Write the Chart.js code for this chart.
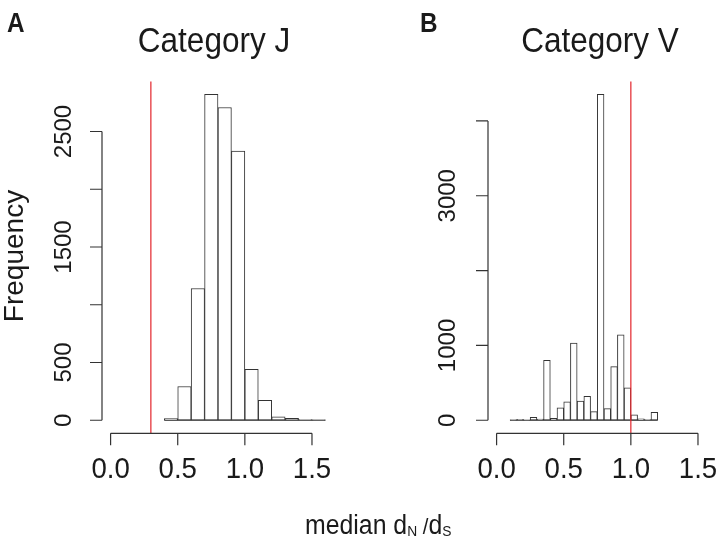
<!DOCTYPE html>
<html><head><meta charset="utf-8">
<script src="https://cdn.jsdelivr.net/npm/chart.js@4"></script>
<style>
html,body{margin:0;padding:0;background:#fff;width:723px;height:540px;overflow:hidden}
canvas{position:absolute;left:0;top:0}
</style></head>
<body>
<canvas id="cJ" width="723" height="540"></canvas>
<canvas id="cV" width="723" height="540"></canvas>
<script>
// ---- data ----
const breaksJ = [0.4,0.5,0.6,0.7,0.8,0.9,1.0,1.1,1.2,1.3,1.4,1.5,1.6];
const countsJ = [15,292,1141,2821,2708,2330,440,173,29,17,6,3];
const breaksV = [0.10,0.15,0.20,0.25,0.30,0.35,0.40,0.45,0.50,0.55,0.60,0.65,0.70,0.75,0.80,0.85,0.90,0.95,1.00,1.05,1.10,1.15,1.20];
const countsV = [5,12,3,40,15,802,25,165,245,1032,258,321,116,4354,156,717,1140,432,71,18,10,107];
const xTicks = [0,0.5,1,1.5];
const xTickLabels = ['0.0','0.5','1.0','1.5'];
const yTicksJ = [0,500,1000,1500,2000,2500];
const yTickLabelsJ = ['0','500','','1500','','2500'];
const yTicksV = [0,1000,2000,3000,4000];
const yTickLabelsV = ['0','1000','','3000',''];
const titles = ['Category J','Category V'];
const panelLetters = ['A','B'];
const refLines = [0.3, 1.0];
const xLim = [0, 1.6];
const yAxisTitle = 'Frequency';

const FONT = '"Liberation Sans", Arial, Helvetica, sans-serif';

function txt(ctx, s, x, y, font, align, rot, sx) {
  ctx.save();
  ctx.translate(x, y);
  ctx.scale(sx || 1, 1);
  if (rot) ctx.rotate(rot);
  ctx.font = font;
  ctx.textAlign = align || 'center';
  ctx.textBaseline = 'alphabetic';
  ctx.fillStyle = '#1a1a1a';
  ctx.fillText(s, 0, 0);
  ctx.restore();
}

function makePanel(idx, canvasId, breaks, counts, yTicks, yLabels, pad, opt) {
  const M = Math.max(...counts);
  const xr = xLim[1] - xLim[0];
  const data = counts.map((c, i) => ({x: (breaks[i] + breaks[i+1]) / 2, y: c}));
  const plugin = {
    id: 'panel' + idx,
    afterDatasetsDraw(chart) {
      const ctx = chart.ctx, xs = chart.scales.x, ys = chart.scales.y, a = chart.chartArea;
      ctx.save();
      ctx.strokeStyle = '#333'; ctx.lineWidth = 1.2;
      ctx.beginPath();
      ctx.moveTo(xs.getPixelForValue(breaks[0]), ys.getPixelForValue(0));
      ctx.lineTo(xs.getPixelForValue(breaks[breaks.length-1]), ys.getPixelForValue(0));
      ctx.stroke();
      const rx = xs.getPixelForValue(refLines[idx]);
      ctx.strokeStyle = '#e3242b'; ctx.lineWidth = 1.2;
      ctx.beginPath(); ctx.moveTo(rx, a.top); ctx.lineTo(rx, a.bottom); ctx.stroke();
      ctx.restore();
    },
    afterDraw(chart) {
      const ctx = chart.ctx, xs = chart.scales.x, ys = chart.scales.y, a = chart.chartArea;
      ctx.save();
      ctx.strokeStyle = '#333'; ctx.lineWidth = 1.2;
      // x axis
      const yb = a.bottom;
      ctx.beginPath();
      ctx.moveTo(xs.getPixelForValue(xTicks[0]), yb);
      ctx.lineTo(xs.getPixelForValue(xTicks[xTicks.length-1]), yb);
      xTicks.forEach(v => { const px = xs.getPixelForValue(v); ctx.moveTo(px, yb); ctx.lineTo(px, yb + 12); });
      ctx.stroke();
      xTicks.forEach((v, i) => txt(ctx, xTickLabels[i], xs.getPixelForValue(v), 478, '30px ' + FONT, 'center', 0, 0.92));
      // y axis
      const xl = a.left;
      ctx.beginPath();
      ctx.moveTo(xl, ys.getPixelForValue(yTicks[0]));
      ctx.lineTo(xl, ys.getPixelForValue(yTicks[yTicks.length-1]));
      yTicks.forEach(v => { const py = ys.getPixelForValue(v); ctx.moveTo(xl, py); ctx.lineTo(xl - 12, py); });
      ctx.stroke();
      yTicks.forEach((v, i) => { if (yLabels[i]) txt(ctx, yLabels[i], xl - opt.ylabOff, ys.getPixelForValue(v), '24px ' + FONT, 'center', -Math.PI/2); });
      // title, letter
      txt(ctx, titles[idx], (a.left + a.right)/2 - 4, 52, '35px ' + FONT, 'center', 0, 0.9);
      txt(ctx, panelLetters[idx], opt.letterX, 32, 'bold 27px ' + FONT, 'left', 0, 0.9);
      if (opt.ylab) txt(ctx, yAxisTitle, 23, 256, '28px ' + FONT, 'center', -Math.PI/2);
      if (opt.xlab) {
        let x = 305; const base = 534;
        ctx.fillStyle = '#1a1a1a'; ctx.textAlign = 'left'; ctx.textBaseline = 'alphabetic';
        const parts = [['median d', '27px', 0], ['N', '15px', 2], [' /', '22px', 0], ['d', '27px', 0], ['S', '15px', 2]];
        parts.forEach(p => {
          ctx.save(); ctx.translate(x, base + p[2]); ctx.scale(0.92, 1);
          ctx.font = p[1] + ' ' + FONT; ctx.fillText(p[0], 0, 0);
          x += ctx.measureText(p[0]).width * 0.92; ctx.restore();
        });
      }
      ctx.restore();
    }
  };
  return new Chart(document.getElementById(canvasId), {
    type: 'bar',
    data: {datasets: [{data: data, backgroundColor: '#ffffff', borderColor: '#333333', borderWidth: 1,
      borderSkipped: false, barPercentage: 1, categoryPercentage: 1, grouped: false}]},
    options: {
      responsive: false, devicePixelRatio: 1, animation: false, events: [],
      layout: {padding: pad},
      plugins: {legend: {display: false}, tooltip: {enabled: false}},
      scales: {
        x: {type: 'linear', offset: false, min: xLim[0] - 0.04*xr, max: xLim[1] + 0.04*xr, display: false},
        y: {type: 'linear', min: -0.04*M, max: 1.04*M, display: false}
      }
    },
    plugins: [plugin]
  });
}

makePanel(0, 'cJ', breaksJ, countsJ, yTicksJ, yTickLabelsJ,
  {left: 102, right: 723 - 334, top: 81.4, bottom: 540 - 433.3}, {ylabOff: 31, letterX: 7, ylab: true, xlab: false});
makePanel(1, 'cV', breaksV, countsV, yTicksV, yTickLabelsV,
  {left: 488, right: 723 - 720, top: 81.4, bottom: 540 - 433.3}, {ylabOff: 33, letterX: 420, ylab: false, xlab: true});
</script>
</body></html>
